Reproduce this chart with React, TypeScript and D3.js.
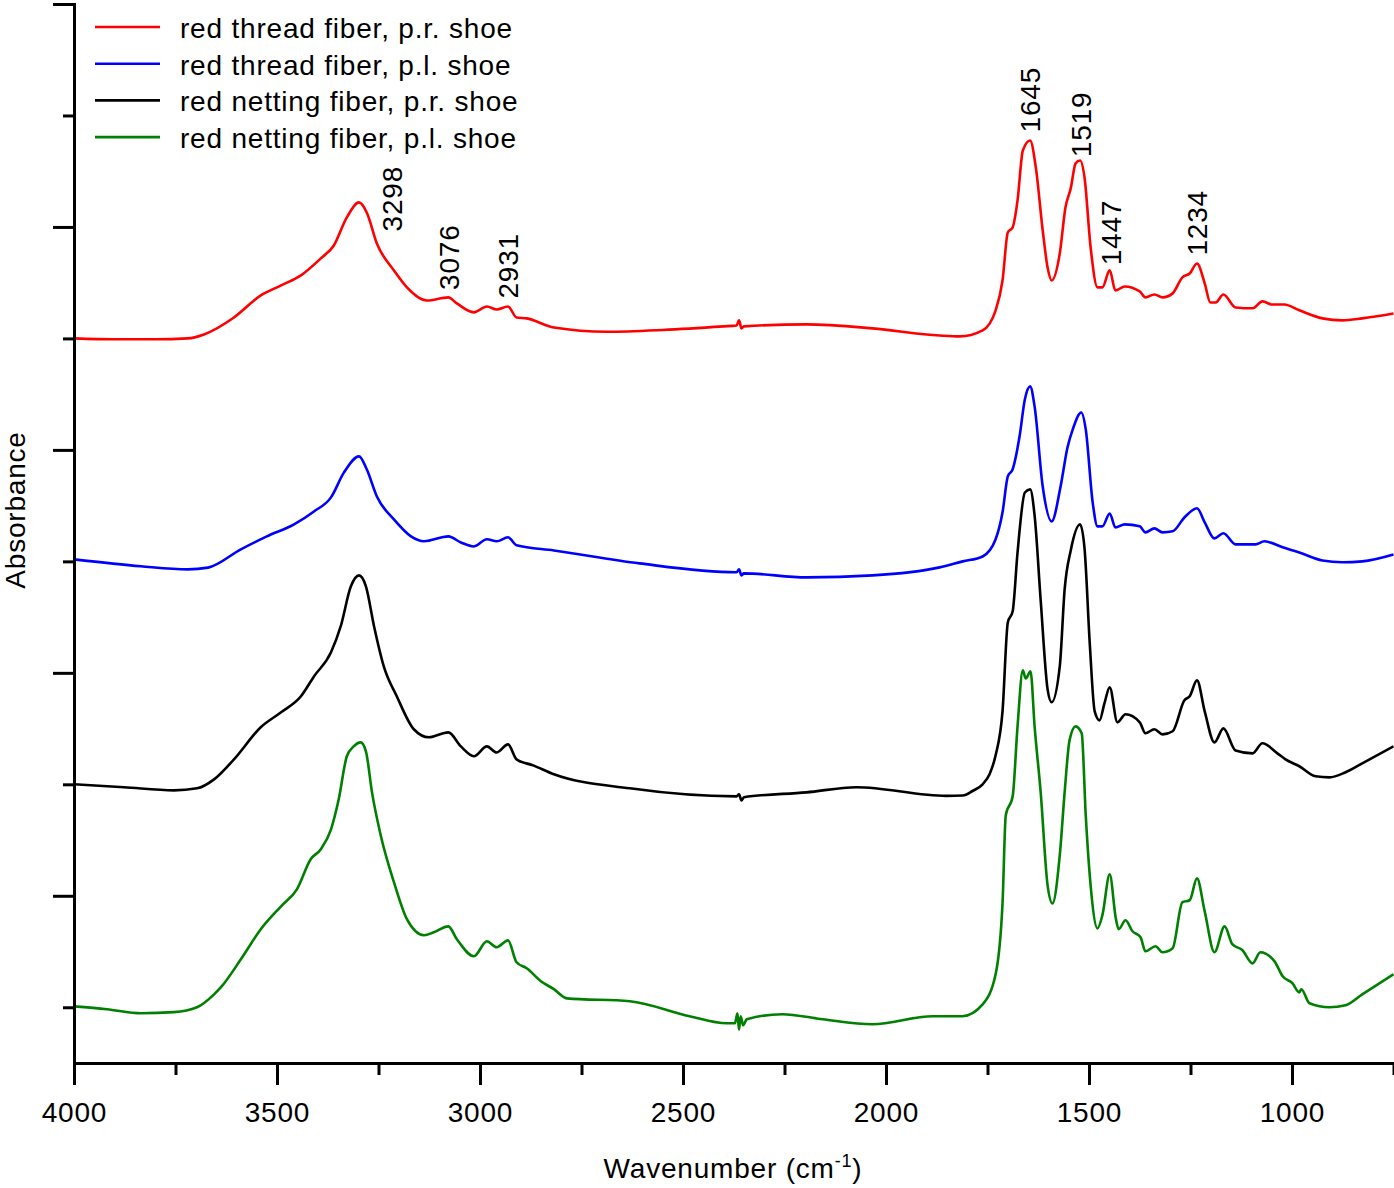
import React, { useEffect, useRef } from 'react';
import * as d3 from 'd3';

// [wavenumber (cm-1), absorbance above the trace's own baseline]
const redThreadPR: [number, number][] = [
  [4000, 0], [3900, -0.004], [3800, -0.004], [3720, 0], [3680, 0.018], [3606, 0.094],
  [3540, 0.193], [3490, 0.238], [3441, 0.283], [3392, 0.359], [3360, 0.417], [3328, 0.543],
  [3298, 0.61], [3279, 0.565], [3254, 0.426], [3212, 0.305], [3180, 0.229], [3131, 0.17],
  [3078, 0.184], [3057, 0.157], [3015, 0.117], [2983, 0.143], [2959, 0.13], [2931, 0.143],
  [2910, 0.094], [2885, 0.09], [2818, 0.049], [2688, 0.03], [2550, 0.038], [2400, 0.054],
  [2368, 0.058], [2362, 0.081], [2356, 0.045], [2350, 0.054], [2196, 0.063], [2033, 0.045],
  [1868, 0.013], [1819, 0.009], [1762, 0.036], [1730, 0.126], [1713, 0.26], [1700, 0.475],
  [1688, 0.498], [1676, 0.619], [1663, 0.843], [1645, 0.888], [1631, 0.767], [1614, 0.484],
  [1602, 0.318], [1592, 0.26], [1572, 0.381], [1558, 0.587], [1545, 0.673], [1533, 0.785],
  [1522, 0.798], [1511, 0.722], [1496, 0.408], [1479, 0.229], [1467, 0.229], [1449, 0.305],
  [1435, 0.215], [1412, 0.233], [1375, 0.211], [1361, 0.184], [1339, 0.197], [1319, 0.184],
  [1294, 0.202], [1270, 0.274], [1252, 0.291], [1234, 0.336], [1215, 0.247], [1201, 0.161],
  [1188, 0.161], [1169, 0.197], [1139, 0.139], [1097, 0.135], [1073, 0.166], [1048, 0.152],
  [1019, 0.152], [982, 0.126], [925, 0.09], [876, 0.081], [827, 0.09], [750, 0.112],
];

const redThreadPL: [number, number][] = [
  [4000, 0.009], [3835, -0.022], [3720, -0.036], [3670, -0.028], [3589, 0.054], [3525, 0.112],
  [3458, 0.166], [3409, 0.224], [3367, 0.287], [3335, 0.399], [3298, 0.471], [3279, 0.413],
  [3254, 0.291], [3212, 0.188], [3170, 0.112], [3138, 0.09], [3078, 0.112], [3047, 0.085],
  [3015, 0.067], [2983, 0.099], [2959, 0.09], [2931, 0.108], [2910, 0.072], [2818, 0.049],
  [2607, -0.009], [2368, -0.049], [2362, -0.036], [2356, -0.063], [2350, -0.054], [2196, -0.072],
  [2033, -0.063], [1868, -0.027], [1811, 0], [1762, 0.022], [1730, 0.099], [1713, 0.22],
  [1700, 0.381], [1688, 0.413], [1671, 0.561], [1658, 0.726], [1645, 0.785], [1634, 0.695],
  [1614, 0.336], [1592, 0.179], [1570, 0.336], [1553, 0.511], [1540, 0.592], [1519, 0.668],
  [1508, 0.592], [1491, 0.265], [1479, 0.157], [1467, 0.157], [1449, 0.215], [1435, 0.152],
  [1412, 0.166], [1375, 0.157], [1361, 0.13], [1339, 0.148], [1319, 0.13], [1294, 0.135],
  [1265, 0.197], [1234, 0.238], [1215, 0.175], [1191, 0.103], [1169, 0.126], [1139, 0.076],
  [1090, 0.076], [1068, 0.09], [1023, 0.063], [982, 0.04], [925, 0.004], [876, -0.004],
  [827, 0], [750, 0.031],
];

const redNettingPR: [number, number][] = [
  [4000, 0], [3877, -0.013], [3754, -0.027], [3697, -0.018], [3655, 0.022], [3606, 0.112],
  [3540, 0.256], [3490, 0.323], [3441, 0.395], [3409, 0.484], [3367, 0.592], [3343, 0.709],
  [3318, 0.888], [3298, 0.937], [3281, 0.888], [3261, 0.709], [3237, 0.529], [3205, 0.395],
  [3163, 0.247], [3126, 0.211], [3078, 0.233], [3047, 0.17], [3015, 0.126], [2983, 0.17],
  [2959, 0.143], [2931, 0.179], [2910, 0.112], [2869, 0.085], [2818, 0.045], [2631, -0.018],
  [2368, -0.054], [2362, -0.045], [2356, -0.072], [2350, -0.058], [2196, -0.036], [2073, -0.013],
  [1852, -0.052], [1811, -0.05], [1787, -0.03], [1762, 0], [1745, 0.045], [1730, 0.13],
  [1713, 0.327], [1700, 0.726], [1688, 0.776], [1676, 1.04], [1658, 1.309], [1645, 1.323],
  [1634, 1.206], [1619, 0.825], [1602, 0.426], [1592, 0.368], [1572, 0.529], [1560, 0.874],
  [1545, 1.049], [1522, 1.166], [1511, 1.058], [1498, 0.628], [1486, 0.327], [1474, 0.287],
  [1462, 0.363], [1449, 0.435], [1430, 0.278], [1410, 0.314], [1375, 0.278], [1361, 0.229],
  [1339, 0.247], [1319, 0.224], [1294, 0.238], [1265, 0.377], [1252, 0.395], [1234, 0.466],
  [1215, 0.327], [1191, 0.188], [1169, 0.251], [1139, 0.152], [1097, 0.139], [1073, 0.184],
  [1036, 0.139], [1016, 0.112], [982, 0.081], [942, 0.036], [908, 0.031], [868, 0.054],
  [827, 0.094], [750, 0.17],
];

const redNettingPL: [number, number][] = [
  [4000, 0.004], [3919, -0.009], [3835, -0.027], [3754, -0.022], [3697, 0], [3655, 0.058],
  [3638, 0.09], [3589, 0.215], [3540, 0.35], [3490, 0.453], [3451, 0.529], [3417, 0.664],
  [3392, 0.709], [3367, 0.798], [3348, 0.933], [3328, 1.126], [3311, 1.17], [3294, 1.188],
  [3281, 1.148], [3266, 0.964], [3244, 0.767], [3212, 0.561], [3180, 0.395], [3138, 0.323],
  [3114, 0.336], [3078, 0.363], [3057, 0.305], [3015, 0.229], [2983, 0.296], [2959, 0.269],
  [2931, 0.3], [2910, 0.202], [2885, 0.175], [2850, 0.117], [2818, 0.081], [2786, 0.04],
  [2631, 0.027], [2484, -0.04], [2393, -0.072], [2372, -0.072], [2366, -0.027], [2362, -0.1],
  [2358, -0.04], [2352, -0.081], [2343, -0.054], [2255, -0.031], [2156, -0.054], [2033, -0.076],
  [1886, -0.04], [1812, -0.04], [1762, 0.013], [1730, 0.148], [1713, 0.466], [1705, 0.861],
  [1688, 0.946], [1676, 1.26], [1663, 1.511], [1656, 1.475], [1644, 1.507], [1634, 1.26],
  [1619, 0.964], [1602, 0.547], [1590, 0.466], [1572, 0.682], [1560, 0.964], [1548, 1.197],
  [1533, 1.26], [1518, 1.229], [1508, 0.861], [1496, 0.547], [1479, 0.354], [1467, 0.413],
  [1449, 0.596], [1434, 0.399], [1427, 0.35], [1410, 0.39], [1393, 0.341], [1373, 0.314],
  [1361, 0.251], [1336, 0.274], [1319, 0.247], [1294, 0.265], [1270, 0.471], [1252, 0.48],
  [1234, 0.578], [1215, 0.43], [1191, 0.247], [1166, 0.363], [1147, 0.283], [1122, 0.256],
  [1097, 0.197], [1078, 0.247], [1043, 0.206], [1023, 0.139], [999, 0.108], [982, 0.067],
  [977, 0.081], [957, 0.018], [908, 0], [868, 0.009], [827, 0.058], [750, 0.148],
];

const seriesNames = [
  'red thread fiber, p.r. shoe',
  'red thread fiber, p.l. shoe',
  'red netting fiber, p.r. shoe',
  'red netting fiber, p.l. shoe',
];
const seriesColors = ['#ff0000', '#0000ff', '#000000', '#008000'];
const seriesOffsets = [2.5, 1.5, 0.5, -0.5];

const peakLabels = [3298, 3076, 2931, 1645, 1519, 1447, 1234];

const xMajorTicks = [4000, 3500, 3000, 2500, 2000, 1500, 1000];
const xMinorTicks = [3750, 3250, 2750, 2250, 1750, 1250, 750];
const yMajorTicks = [0, 1, 2, 3, 4];
const yMinorTicks = [-0.5, 0.5, 1.5, 2.5, 3.5];

const width = 1394;
const height = 1188;
const FONT = 'Arial, "Liberation Sans", sans-serif';

// linear interpolation of a trace at a given wavenumber
const valueAt = (data: [number, number][], wn: number) => {
  for (let i = 0; i < data.length - 1; i++) {
    const [w0, v0] = data[i];
    const [w1, v1] = data[i + 1];
    if (wn <= w0 && wn >= w1) return v0 + ((wn - w0) / (w1 - w0)) * (v1 - v0);
  }
  return 0;
};

export default function App() {
  const ref = useRef<SVGSVGElement>(null);

  useEffect(() => {
    const svg = d3.select(ref.current);
    svg.selectAll('*').remove();

    const x = d3.scaleLinear().domain([4000, 750]).range([74, 1393.5]);
    const y = d3.scaleLinear().domain([-0.75, 4]).range([1063, 4]);

    const allSeries = [redThreadPR, redThreadPL, redNettingPR, redNettingPL];

    // traces
    allSeries.forEach((data, i) => {
      const line = d3.line<[number, number]>()
        .x(d => x(d[0]))
        .y(d => y(d[1] + seriesOffsets[i]))
        .curve(d3.curveMonotoneX);
      svg.append('path')
        .datum(data)
        .attr('d', line)
        .attr('fill', 'none')
        .attr('stroke', seriesColors[i])
        .attr('stroke-width', 2.6)
        .attr('stroke-linejoin', 'round');
    });

    // x axis
    const xMinor = svg.append('g').attr('transform', 'translate(0,1063)')
      .call(d3.axisBottom(x).tickValues(xMinorTicks).tickSize(12).tickFormat(() => ''));
    xMinor.select('.domain').remove();

    const xMajor = svg.append('g').attr('transform', 'translate(0,1063)')
      .call(d3.axisBottom(x).tickValues(xMajorTicks).tickSize(22).tickSizeOuter(0)
        .tickPadding(17).tickFormat(d3.format('d')));
    xMajor.selectAll('text')
      .attr('font-family', FONT)
      .attr('font-size', 28)
      .attr('letter-spacing', 0.8)
      .attr('fill', '#000');

    // y axis
    const yMinor = svg.append('g').attr('transform', 'translate(74,0)')
      .call(d3.axisLeft(y).tickValues(yMinorTicks).tickSize(11).tickFormat(() => ''));
    yMinor.select('.domain').remove();

    svg.append('g').attr('transform', 'translate(74,0)')
      .call(d3.axisLeft(y).tickValues(yMajorTicks).tickSize(21).tickSizeOuter(0).tickFormat(() => ''));

    svg.selectAll('.tick line').attr('stroke', '#000').attr('stroke-width', 3);
    svg.selectAll('.domain').attr('stroke', '#000').attr('stroke-width', 3).attr('stroke-linecap', 'square');

    // peak labels above the top trace
    peakLabels.forEach(wn => {
      // the 3298 label sits to the right of its peak
      const shifted = wn === 3298;
      const bx = shifted ? x(wn) + 43 : x(wn) + 10;
      const sy = shifted
        ? y(valueAt(redThreadPR, wn) + seriesOffsets[0]) + 29
        : y(valueAt(redThreadPR, wn) + seriesOffsets[0]) - 8;
      svg.append('text')
        .attr('transform', `translate(${bx},${sy}) rotate(-90)`)
        .attr('font-family', FONT)
        .attr('font-size', 28)
        .attr('letter-spacing', 0.8)
        .attr('fill', '#000')
        .text(wn);
    });

    // legend
    const legend = svg.append('g');
    seriesNames.forEach((name, i) => {
      const ly = 27 + i * 36.7;
      legend.append('line')
        .attr('x1', 95).attr('x2', 160)
        .attr('y1', ly).attr('y2', ly)
        .attr('stroke', seriesColors[i])
        .attr('stroke-width', 2.6);
      legend.append('text')
        .attr('x', 180).attr('y', ly + 11)
        .attr('font-family', FONT)
        .attr('font-size', 28)
        .attr('letter-spacing', 0.8)
        .attr('fill', '#000')
        .text(name);
    });

    // axis titles
    svg.append('text')
      .attr('transform', 'translate(25,510) rotate(-90)')
      .attr('text-anchor', 'middle')
      .attr('font-family', FONT)
      .attr('font-size', 28)
      .attr('letter-spacing', 0.8)
      .attr('fill', '#000')
      .text('Absorbance');

    const xTitle = svg.append('text')
      .attr('x', 733).attr('y', 1178)
      .attr('text-anchor', 'middle')
      .attr('font-family', FONT)
      .attr('font-size', 28)
      .attr('letter-spacing', 0.8)
      .attr('fill', '#000');
    xTitle.append('tspan').text('Wavenumber (cm');
    xTitle.append('tspan').attr('font-size', 18).attr('dy', -11).text('-1');
    xTitle.append('tspan').attr('dy', 11).text(')');
  }, []);

  return (
    <>
      <style>{'body { margin: 0; }'}</style>
      <svg ref={ref} width={width} height={height} style={{ display: 'block', background: '#fff' }} />
    </>
  );
}
